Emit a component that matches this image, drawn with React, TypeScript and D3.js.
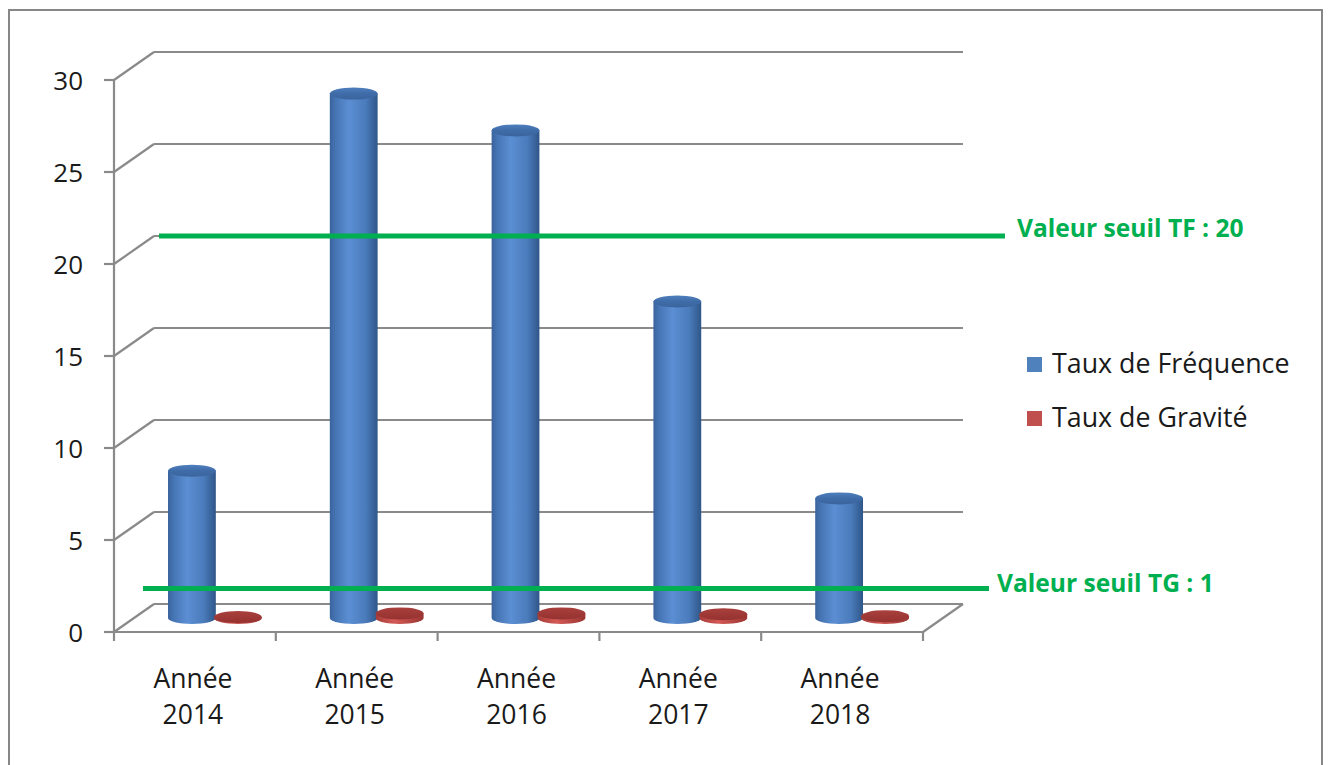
import React from "react";
import * as d3 from "d3";

// Rates per year
const years = ["2014", "2015", "2016", "2017", "2018"];
const seriesNames = ["Taux de Fréquence", "Taux de Gravité"];
const tauxFrequence = [8.0, 28.5, 26.5, 17.2, 6.5];
const tauxGravite = [0.05, 0.25, 0.25, 0.2, 0.1];
const yTicks = [0, 5, 10, 15, 20, 25, 30];

// Threshold annotations
const seuilTF = 20;
const seuilTG = 1;

// Layout
const W = 1330;
const H = 765;
const FRONT_LEFT = 114;
const FRONT_RIGHT = 923;
const FLOOR_Y = 632;
const TOP_Y = 80;
const DEPTH_DX = 40;
const DEPTH_DY = 28;
const BAR_DEPTH = 0.5;
const GRID = "#8a8a8a";
const GREEN = "#00B050";
const FONT = "'Open Sans', 'DejaVu Sans', sans-serif";

const yFront = d3.scaleLinear().domain([0, 30]).range([FLOOR_Y, TOP_Y]);
const x0 = d3.scaleBand<string>().domain(years).range([FRONT_LEFT, FRONT_RIGHT]).paddingInner(0).paddingOuter(0);
const x1 = d3
  .scaleBand<string>()
  .domain(seriesNames)
  .range([0, x0.bandwidth()])
  .paddingInner(0)
  .paddingOuter(0.76);

const yBack = (v: number) => yFront(v) - DEPTH_DY;
const barShiftX = DEPTH_DX * BAR_DEPTH;
const barShiftY = DEPTH_DY * BAR_DEPTH;
const yBar = (v: number) => yFront(v) - barShiftY;

function Cylinder({
  cx,
  w,
  value,
  body,
  top,
}: {
  cx: number;
  w: number;
  value: number;
  body: string;
  top: string;
}) {
  const rx = w / 2;
  const ry = 6;
  const base = yBar(0);
  const yt = yBar(value);
  const d = `M${cx - rx},${yt} L${cx - rx},${base} A${rx},${ry} 0 0 0 ${cx + rx},${base} L${cx + rx},${yt} Z`;
  return (
    <g>
      <path d={d} fill={`url(#${body})`} />
      <ellipse cx={cx} cy={yt} rx={rx} ry={ry} fill={`url(#${top})`} />
    </g>
  );
}

export default function App() {
  const barW = x1.bandwidth() * 1.04;
  const backLeft = FRONT_LEFT + DEPTH_DX;
  const backRight = FRONT_RIGHT + DEPTH_DX;

  return (
    <div style={{ position: "absolute", left: 0, top: 0 }}>
      <svg width={W} height={H} style={{ display: "block", background: "#fff" }}>
        <defs>
          <linearGradient id="blueBody" x1="0" x2="1" y1="0" y2="0">
            <stop offset="0" stopColor="#3a639c" />
            <stop offset="0.12" stopColor="#4675b4" />
            <stop offset="0.4" stopColor="#5b8ed3" />
            <stop offset="0.75" stopColor="#4a7bbb" />
            <stop offset="1" stopColor="#2f5688" />
          </linearGradient>
          <linearGradient id="blueTop" x1="0" x2="0" y1="0" y2="1">
            <stop offset="0" stopColor="#4f7fbe" />
            <stop offset="0.5" stopColor="#3f6ca8" />
            <stop offset="1" stopColor="#3a649d" />
          </linearGradient>
          <linearGradient id="redBody" x1="0" x2="1" y1="0" y2="0">
            <stop offset="0" stopColor="#a53c39" />
            <stop offset="0.4" stopColor="#d35a56" />
            <stop offset="1" stopColor="#9a3431" />
          </linearGradient>
          <linearGradient id="redTop" x1="0" x2="0" y1="0" y2="1">
            <stop offset="0" stopColor="#a9403d" />
            <stop offset="1" stopColor="#953230" />
          </linearGradient>
        </defs>

        {/* outer frame */}
        <rect x={9} y={10} width={1313} height={800} fill="none" stroke="#878787" strokeWidth={2} />

        {/* back wall gridlines with their slanted side edges */}
        {yTicks.map((t) => (
          <g key={`g${t}`} stroke={GRID} strokeWidth={2.2} fill="none">
            <line x1={FRONT_LEFT} y1={yFront(t)} x2={backLeft} y2={yBack(t)} />
            <line x1={backLeft} y1={yBack(t)} x2={backRight} y2={yBack(t)} />
          </g>
        ))}

        {/* floor edges */}
        <g stroke={GRID} strokeWidth={2.2}>
          <line x1={FRONT_RIGHT} y1={yFront(0)} x2={backRight} y2={yBack(0)} />
          <line x1={FRONT_LEFT} y1={yFront(0)} x2={FRONT_RIGHT} y2={yFront(0)} />
        </g>

        {/* value axis */}
        <g stroke={GRID} strokeWidth={2.2}>
          <line x1={FRONT_LEFT} y1={yFront(30)} x2={FRONT_LEFT} y2={FLOOR_Y + 9} />
          {yTicks.map((t) => (
            <line key={`yt${t}`} x1={FRONT_LEFT - 10} y1={yFront(t)} x2={FRONT_LEFT} y2={yFront(t)} />
          ))}
          {years.map((yr) => (
            <line
              key={`xt${yr}`}
              x1={(x0(yr) as number) + x0.bandwidth()}
              y1={FLOOR_Y}
              x2={(x0(yr) as number) + x0.bandwidth()}
              y2={FLOOR_Y + 9}
            />
          ))}
        </g>
        <g fontFamily={FONT} fontSize={26} fill="#1a1a1a" textAnchor="end">
          {yTicks.map((t) => (
            <text key={`yl${t}`} x={83} y={yFront(t) + 10}>
              {t}
            </text>
          ))}
        </g>

        {/* bars */}
        {years.map((yr, i) => {
          const cx0 = (x0(yr) as number) + barShiftX;
          return (
            <g key={`b${yr}`}>
              <Cylinder
                cx={cx0 + (x1(seriesNames[0]) as number) + x1.bandwidth() / 2}
                w={barW}
                value={tauxFrequence[i]}
                body="blueBody"
                top="blueTop"
              />
              <Cylinder
                cx={cx0 + (x1(seriesNames[1]) as number) + x1.bandwidth() / 2}
                w={barW}
                value={tauxGravite[i]}
                body="redBody"
                top="redTop"
              />
            </g>
          );
        })}

        {/* category labels */}
        <g fontFamily={FONT} fontSize={26.5} fill="#1a1a1a" textAnchor="middle">
          {years.map((yr) => {
            const cx = (x0(yr) as number) + x0.bandwidth() / 2 - 2;
            return (
              <text key={`xl${yr}`} x={cx} y={688}>
                <tspan x={cx}>Année</tspan>
                <tspan x={cx} dy={36}>
                  {yr}
                </tspan>
              </text>
            );
          })}
        </g>

        {/* thresholds */}
        <g stroke={GREEN} strokeWidth={5}>
          <line x1={159} y1={yBack(seuilTF)} x2={1005} y2={yBack(seuilTF)} />
          <line x1={143} y1={yBack(seuilTG) + 3} x2={989} y2={yBack(seuilTG) + 3} />
        </g>
        <g fontFamily={FONT} fontWeight={700} fontSize={24.6} fill={GREEN}>
          <text x={1017} y={yBack(seuilTF) + 1}>
            {`Valeur seuil TF : ${seuilTF}`}
          </text>
          <text x={997} y={yBack(seuilTG) + 6}>
            {`Valeur seuil TG : ${seuilTG}`}
          </text>
        </g>

        {/* legend */}
        <g fontFamily={FONT} fontSize={26.8} fill="#1a1a1a">
          <rect x={1027} y={357} width={15} height={15} fill="#4f81bd" />
          <text x={1052} y={373}>
            {seriesNames[0]}
          </text>
          <rect x={1027} y={411} width={15} height={15} fill="#c0504d" />
          <text x={1052} y={427}>
            {seriesNames[1]}
          </text>
        </g>
      </svg>
    </div>
  );
}
